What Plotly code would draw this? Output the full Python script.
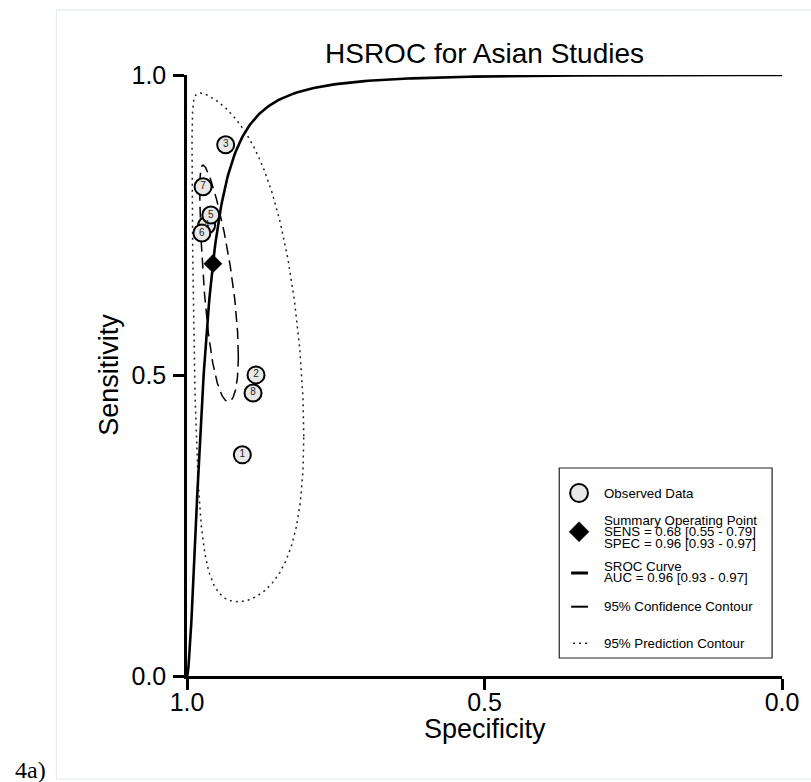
import numpy as np
import plotly.graph_objects as go

# ---------------- data ----------------
study_ids = ["1", "2", "3", "4", "5", "6", "7", "8"]
study_spec = [0.907, 0.884, 0.935, 0.967, 0.960, 0.975, 0.973, 0.889]
study_sens = [0.368, 0.501, 0.884, 0.750, 0.767, 0.737, 0.814, 0.471]

summary_spec = [0.9565]
summary_sens = [0.686]

# HSROC model parameters (logit scale): centre of summary point, SROC slope
centre_logit_fpr = -3.09
centre_logit_sens = 0.78
sroc_slope = 1.7

# confidence region (logit FPR sd, logit sens sd, correlation)
conf_sd_fpr, conf_sd_sens, conf_rho = 0.73, 0.955, -0.68
# prediction region
pred_centre_sens = 0.76
pred_sd_fpr, pred_sd_sens, pred_rho = 1.68, 2.72, -0.43

x_tick_vals = [1.0, 0.5, 0.0]
x_tick_text = ["1.0", "0.5", "0.0"]
y_tick_vals = [0.0, 0.5, 1.0]
y_tick_text = ["0.0", "0.5", "1.0"]

legend_labels = [
    ["Observed Data"],
    ["Summary Operating Point", "SENS = 0.68 [0.55 - 0.79]", "SPEC = 0.96 [0.93 - 0.97]"],
    ["SROC Curve", "AUC = 0.96 [0.93 - 0.97]"],
    ["95% Confidence Contour"],
    ["95% Prediction Contour"],
]

# ---------------- helpers ----------------
def expit(v):
    return 1.0 / (1.0 + np.exp(-v))

def region(cx, cy, sx, sy, rho, n=400):
    t = np.linspace(0, 2 * np.pi, n)
    d = np.arccos(rho)
    lf = cx + sx * np.cos(t)
    ls = cy + sy * np.cos(t - d)
    return 1 - expit(lf), expit(ls)

# SROC curve
lf_grid = np.linspace(-12, 12, 800)
sroc_spec = 1 - expit(lf_grid)
sroc_sens = expit(centre_logit_sens + sroc_slope * (lf_grid - centre_logit_fpr))

conf_spec, conf_sens = region(centre_logit_fpr, centre_logit_sens, conf_sd_fpr, conf_sd_sens, conf_rho)
pred_spec, pred_sens = region(centre_logit_fpr, pred_centre_sens, pred_sd_fpr, pred_sd_sens, pred_rho)

FONT = "Liberation Sans, Arial, Helvetica, sans-serif"
DOT = "2px,4px"

# layout geometry (pixels)
L, T, PW, PH = 187, 75, 601, 601
W, H = 811, 782

def px_x(p):
    return (p - L) / PW

def px_y(p):
    return (T + PH - p) / PH

fig = go.Figure()

fig.add_trace(go.Scatter(x=pred_spec, y=pred_sens, mode="lines",
                         line=dict(color="#222222", width=1.5, dash=DOT),
                         hoverinfo="skip", showlegend=False))
fig.add_trace(go.Scatter(x=conf_spec, y=conf_sens, mode="lines",
                         line=dict(color="black", width=1.5, dash="11px,6px"),
                         hoverinfo="skip", showlegend=False))
fig.add_trace(go.Scatter(x=study_spec, y=study_sens, mode="markers+text",
                         text=study_ids, textposition="middle center",
                         textfont=dict(family=FONT, size=10, color="#222222"),
                         marker=dict(symbol="circle", size=17, color="#e8e8e8",
                                     line=dict(color="black", width=2)),
                         showlegend=False))
fig.add_trace(go.Scatter(x=sroc_spec, y=sroc_sens, mode="lines",
                         line=dict(color="black", width=2.6),
                         hoverinfo="skip", showlegend=False))
fig.add_trace(go.Scatter(x=summary_spec, y=summary_sens, mode="markers",
                         marker=dict(symbol="diamond", size=14, color="black",
                                     line=dict(color="black", width=0.5)),
                         showlegend=False))

shapes = []
annotations = []

# outer faint frame
shapes.append(dict(type="rect", xref="paper", yref="paper",
                   x0=px_x(55), x1=px_x(900), y0=px_y(779), y1=px_y(10),
                   line=dict(color="#dfe8ec", width=1), layer="below"))

# legend box
shapes.append(dict(type="rect", xref="paper", yref="paper",
                   x0=px_x(563), x1=px_x(778), y0=px_y(658), y1=px_y(468),
                   line=dict(color="#222222", width=1.2), fillcolor="white"))
sx_ = 583
r = 9
shapes.append(dict(type="circle", xref="paper", yref="paper",
                   x0=px_x(sx_ - r), x1=px_x(sx_ + r), y0=px_y(493 + r), y1=px_y(493 - r),
                   line=dict(color="black", width=2), fillcolor="#e8e8e8"))
dy = 531.7
shapes.append(dict(type="path", xref="paper", yref="paper",
                   path=f"M {px_x(sx_-10)},{px_y(dy)} L {px_x(sx_)},{px_y(dy-10)} "
                        f"L {px_x(sx_+10)},{px_y(dy)} L {px_x(sx_)},{px_y(dy+10)} Z",
                   line=dict(color="black", width=0.5), fillcolor="black"))
shapes.append(dict(type="line", xref="paper", yref="paper",
                   x0=px_x(575), x1=px_x(592), y0=px_y(573), y1=px_y(573),
                   line=dict(color="black", width=3)))
shapes.append(dict(type="line", xref="paper", yref="paper",
                   x0=px_x(575), x1=px_x(592), y0=px_y(606.7), y1=px_y(606.7),
                   line=dict(color="black", width=2)))
shapes.append(dict(type="line", xref="paper", yref="paper",
                   x0=px_x(577), x1=px_x(592), y0=px_y(643.3), y1=px_y(643.3),
                   line=dict(color="#222222", width=1.5, dash=DOT)))

legend_y = [[493], [520, 531.7, 543.3], [566.7, 577.7], [606.7], [643.3]]
for labels, ys in zip(legend_labels, legend_y):
    for lab, yy in zip(labels, ys):
        annotations.append(dict(xref="paper", yref="paper", x=px_x(606), y=px_y(yy),
                                text=lab, showarrow=False, xanchor="left", yanchor="middle",
                                font=dict(family=FONT, size=13.3, color="black")))

annotations.append(dict(xref="paper", yref="paper", x=px_x(487), y=px_y(53),
                        text="HSROC for Asian Studies", showarrow=False,
                        xanchor="center", yanchor="middle",
                        font=dict(family=FONT, size=28, color="black")))
annotations.append(dict(xref="paper", yref="paper", x=px_x(488), y=px_y(729),
                        text="Specificity", showarrow=False,
                        xanchor="center", yanchor="middle",
                        font=dict(family=FONT, size=27, color="black")))
annotations.append(dict(xref="paper", yref="paper", x=px_x(108), y=px_y(375),
                        text="Sensitivity", showarrow=False, textangle=-90,
                        xanchor="center", yanchor="middle",
                        font=dict(family=FONT, size=27, color="black")))
annotations.append(dict(xref="paper", yref="paper", x=px_x(29), y=px_y(770),
                        text="4a)", showarrow=False, xanchor="center", yanchor="middle",
                        font=dict(family="Liberation Serif, Times New Roman, serif",
                                  size=24, color="black")))

axis_common = dict(showgrid=False, zeroline=False, showline=True, linecolor="black",
                   linewidth=2.5, ticks="outside", ticklen=11, tickwidth=2.5,
                   tickcolor="black", tickfont=dict(family=FONT, size=25, color="black"))

fig.update_layout(
    width=W, height=H, autosize=False,
    margin=dict(l=L, r=W - L - PW, t=T, b=H - T - PH, pad=0),
    paper_bgcolor="white", plot_bgcolor="white",
    xaxis=dict(range=[1, 0], tickvals=x_tick_vals, ticktext=x_tick_text,
               ticklabelstandoff=-9, **axis_common),
    yaxis=dict(range=[0, 1], tickvals=y_tick_vals, ticktext=y_tick_text,
               ticklabelstandoff=2, **axis_common),
    shapes=shapes, annotations=annotations, showlegend=False,
)

fig.write_html("out.html")
